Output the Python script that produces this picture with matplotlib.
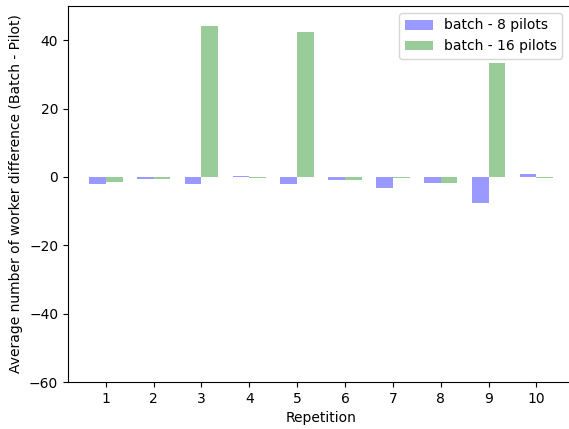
import numpy as np
import matplotlib.pyplot as plt

repetitions = [1, 2, 3, 4, 5, 6, 7, 8, 9, 10]
batch_8 = [-2.1, -0.7, -2.1, 0.3, -2.1, -1.0, -3.3, -1.8, -7.5, 0.8]
batch_16 = [-1.6, -0.6, 44.1, -0.3, 42.4, -1.0, -0.4, -1.8, 33.2, -0.3]

width = 0.35
x = np.arange(len(repetitions)) + 1

fig, ax = plt.subplots(figsize=(5.69, 4.29), dpi=100)
ax.bar(x - width / 2, batch_8, width, color='b', alpha=0.4, label='batch - 8 pilots')
ax.bar(x + width / 2, batch_16, width, color='g', alpha=0.4, label='batch - 16 pilots')

ax.set_xticks(x)
ax.set_xticklabels([str(r) for r in repetitions])
ax.set_ylim(-60, 50)
ax.set_xlim(0.21, 10.80)
ax.set_xlabel('Repetition')
ax.set_ylabel('Average number of worker difference (Batch - Pilot)')
ax.legend(loc='upper right', bbox_to_anchor=(1.0, 1 - 6 / 429),
          bbox_transform=fig.transFigure)

# axes runs slightly past the right edge, as in the original
fig.subplots_adjust(left=68 / 569, right=1.01, top=1 - 6 / 429, bottom=1 - 382 / 429)
fig.savefig('out.png')
